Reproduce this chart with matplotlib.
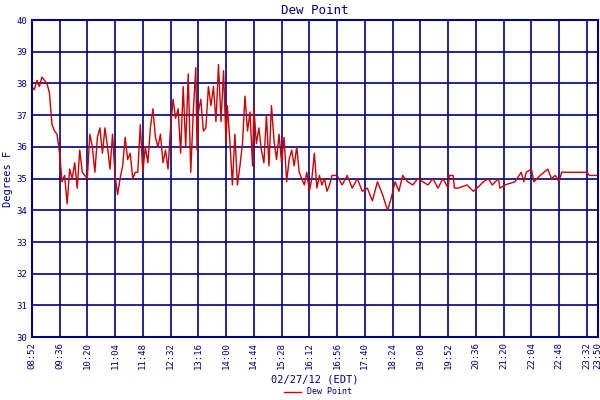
import matplotlib
matplotlib.use("Agg")
import matplotlib.pyplot as plt

# minutes after 08:52 and dew point (F)
minutes = [0, 4, 8, 12, 16, 20, 24, 28, 32, 36, 40, 44,
           48, 52, 56, 60, 64, 68, 72, 76, 80, 84, 88,
           92, 96, 100, 104, 108, 112, 116, 120, 124, 128, 132,
           136, 140, 144, 148, 152, 156, 160, 164, 168, 172, 176,
           180, 184, 188, 192, 196, 200, 204, 208, 212, 216, 220,
           224, 228, 232, 236, 240, 244, 248, 252, 256, 260, 262, 264,
           268, 272, 276, 280, 284, 288, 292, 296, 300, 304, 308,
           310, 314, 318, 322, 326, 330, 334, 338, 342, 346, 350, 352,
           356, 360, 364, 368, 372, 376, 380, 384, 388, 392, 396,
           400, 404, 408, 412, 416, 420, 424, 428, 432, 436, 440,
           444, 448, 452, 456, 460, 464, 468, 472, 476, 484,
           492, 500, 508, 516, 524, 532, 540, 548, 556, 564,
           570, 576, 582, 588, 596, 604, 612, 620, 628, 636, 644, 652, 660,
           662, 668, 670, 676, 690, 700, 706, 716, 724, 730, 740,
           742, 750, 766, 776, 780, 784, 792, 796, 806, 818, 824, 830,
           836, 840, 856, 864, 870, 880, 884, 898]
dew = [37.9, 37.8, 38.1, 37.9, 38.2, 38.1, 38.0, 37.7, 36.7, 36.5, 36.4, 35.8,
       34.9, 35.1, 34.2, 35.3, 35.0, 35.5, 34.7, 35.9, 35.2, 35.1, 35.0,
       36.4, 36.0, 35.2, 36.3, 36.6, 35.8, 36.6, 36.0, 35.3, 36.4, 35.1,
       34.5, 35.0, 35.4, 36.3, 35.6, 35.8, 35.0, 35.2, 35.2, 36.7, 35.2,
       36.0, 35.5, 36.6, 37.2, 36.3, 36.0, 36.4, 35.5, 35.9, 35.3, 36.6,
       37.5, 36.9, 37.2, 35.8, 37.9, 36.0, 38.3, 35.2, 37.1, 38.5, 35.9, 37.1,
       37.5, 36.5, 36.6, 37.9, 37.3, 37.9, 36.8, 38.6, 36.8, 38.4, 36.1,
       37.3, 36.2, 34.8, 36.4, 34.8, 35.4, 36.1, 37.6, 36.5, 37.1, 35.4, 37.3,
       36.1, 36.6, 35.9, 35.5, 37.0, 35.4, 37.3, 36.2, 35.6, 36.4, 35.5,
       36.3, 34.9, 35.6, 35.9, 35.4, 36.0, 35.2, 35.0, 34.8, 35.2, 34.6,
       35.0, 35.8, 34.7, 35.1, 34.8, 35.0, 34.6, 34.8, 35.1, 35.1,
       34.8, 35.1, 34.7, 35.0, 34.6, 34.7, 34.3, 34.9, 34.5, 34.0,
       34.4, 34.9, 34.6, 35.1, 34.9, 34.8, 35.0, 34.9, 34.8, 35.0, 34.7, 35.0, 34.7,
       35.1, 35.1, 34.7, 34.7, 34.8, 34.6, 34.7, 34.9, 35.0, 34.8, 35.0,
       34.7, 34.8, 34.9, 35.2, 34.9, 35.2, 35.3, 34.9, 35.1, 35.3, 35.0, 35.1,
       34.9, 35.2, 35.2, 35.2, 35.2, 35.2, 35.1, 35.1]

tick_min = [0, 44, 88, 132, 176, 220, 264, 308, 352, 396, 440, 484, 528,
            572, 616, 660, 704, 748, 792, 836, 880, 898]
tick_lab = ["08:52", "09:36", "10:20", "11:04", "11:48", "12:32", "13:16",
            "14:00", "14:44", "15:28", "16:12", "16:56", "17:40", "18:24",
            "19:08", "19:52", "20:36", "21:20", "22:04", "22:48", "23:32", "23:50"]

navy = "#000080"
plt.rcParams['font.family'] = ['DejaVu Sans Mono']
fig = plt.figure(figsize=(6, 4), dpi=100)
ax = fig.add_axes([0.053, 0.157, 0.944, 0.793])
ax.plot(minutes, dew, color="#cc0000", lw=1, label="Dew Point")
ax.set_xlim(0, 898)
ax.set_ylim(30, 40)
ax.set_xticks(tick_min)
ax.set_xticklabels(tick_lab, rotation=90, fontsize=6.5, color=navy)
ax.set_yticks(range(30, 41))
ax.tick_params(axis='y', labelsize=6.5, colors=navy, length=0)
ax.tick_params(axis='x', length=0, colors=navy)
ax.grid(True, color=navy, lw=1.2)
for s in ax.spines.values():
    s.set_color(navy)
    s.set_linewidth(1.5)
ax.set_title("Dew Point", color=navy, fontsize=9, pad=4)
ax.set_ylabel("Degrees F", color=navy, fontsize=7.5, labelpad=2)
ax.set_xlabel("02/27/12 (EDT)", color=navy, fontsize=7.5, labelpad=4)
fig.legend(loc="lower center", bbox_to_anchor=(0.53, -0.01), frameon=False,
           fontsize=6, labelcolor=navy, handlelength=2)
fig.savefig("out.png")
